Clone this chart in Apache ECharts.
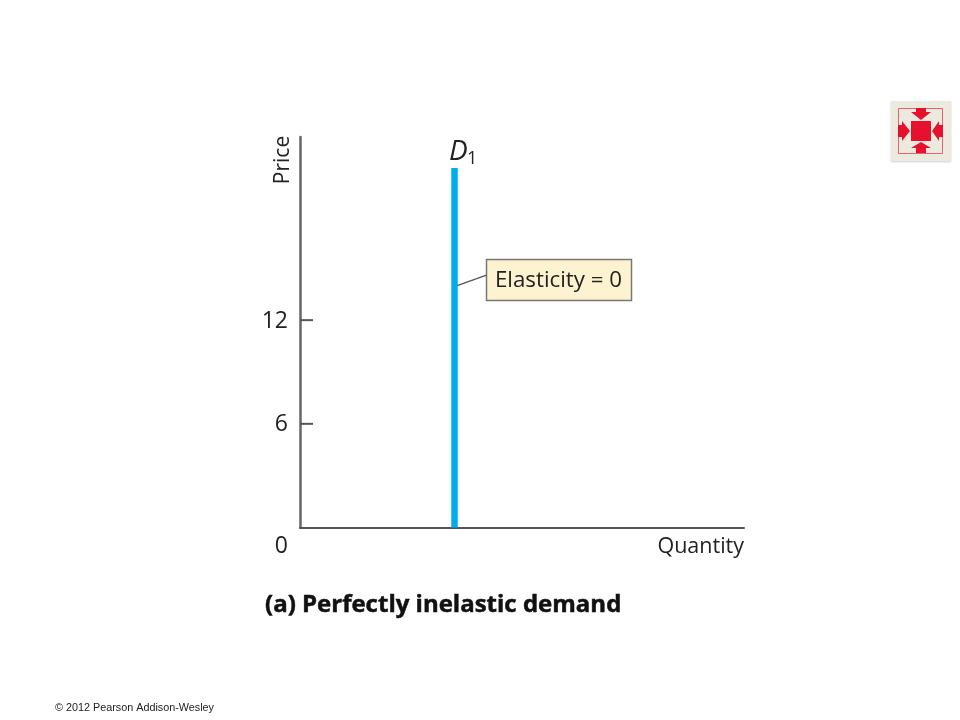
<!DOCTYPE html>
<html><head><meta charset="utf-8">
<style>html,body{margin:0;padding:0;background:#fff}#c{width:960px;height:720px}</style>
<script src="https://cdn.jsdelivr.net/npm/echarts@6/dist/echarts.min.js"></script>
</head><body><div id="c"></div>
<script>
const priceTicks = [6, 12];
const demandQuantity = 34.8;
const demandPrices = [0, 20.8];
const leaderPrices = [14.0, 14.6];
const leaderQuantities = [35.4, 42.0];
const labels = {demand:'D', sub:'1', box:'Elasticity = 0', x:'Quantity', y:'Price', zero:'0', title:'(a) Perfectly inelastic demand', copy:'© 2012 Pearson Addison-Wesley'};
const FONT = '"Open Sans","Noto Sans",sans-serif';
const chart = echarts.init(document.getElementById('c'), null, {renderer:'canvas'});
const axisColor = '#555';
const RED = '#E8112D';
chart.setOption({
  animation:false,
  backgroundColor:'#fff',
  grid:{left:300,top:137,width:444,height:390.5,containLabel:false},
  xAxis:{type:'value',min:0,max:100,splitLine:{show:false},axisTick:{show:false},axisLabel:{show:false},
    axisLine:{onZero:false,lineStyle:{color:axisColor,width:2}}},
  yAxis:{type:'value',min:0,max:22.6,splitLine:{show:false},axisTick:{show:false},axisLabel:{show:false},
    axisLine:{onZero:false,lineStyle:{color:'#666',width:2.5}}},
  series:[
    {type:'line',name:'Demand',symbol:'none',silent:true,
      data:demandPrices.map(p=>[demandQuantity,p]),
      lineStyle:{color:'#00AEEF',width:6.5,cap:'butt'}},
    {type:'line',name:'Leader',symbol:'none',silent:true,
      data:leaderQuantities.map((q,i)=>[q,leaderPrices[i]]),
      lineStyle:{color:'#555',width:1.3}},
    {type:'custom',name:'Ticks',silent:true,data:priceTicks.map(p=>[0,p]),
      renderItem:(params,api)=>{
        const a=api.coord([0,api.value(1)]);
        return {type:'group',children:[
          {type:'line',shape:{x1:a[0],y1:a[1],x2:a[0]+13,y2:a[1]},style:{stroke:axisColor,lineWidth:2}},
          {type:'text',x:a[0]-12,y:a[1]+1,style:{text:String(api.value(1)),font:'23px '+FONT,fill:'#222',align:'right',verticalAlign:'middle'}}
        ]};
      }}
  ],
  graphic:[
    {type:'text',x:288,y:546,style:{text:labels.zero,font:'23px '+FONT,fill:'#222',align:'right',verticalAlign:'middle'}},
    {type:'text',x:744,y:547,style:{text:labels.x,font:'21.5px '+FONT,fill:'#222',align:'right',verticalAlign:'middle'}},
    {type:'text',x:283,y:160,rotation:Math.PI/2,style:{text:labels.y,font:'21px '+FONT,fill:'#222',align:'center',verticalAlign:'middle'}},
    {type:'text',x:449,y:152,style:{text:labels.demand,font:'italic 28px '+FONT,fill:'#222',align:'left',verticalAlign:'middle'}},
    {type:'text',x:467,y:159,style:{text:labels.sub,font:'18px '+FONT,fill:'#222',align:'left',verticalAlign:'middle'}},
    {type:'rect',shape:{x:486.5,y:259.5,width:145,height:41},style:{fill:'#FDF3D0',stroke:'#777',lineWidth:1.5}},
    {type:'text',x:558.5,y:281,style:{text:labels.box,font:'22.3px '+FONT,fill:'#222',align:'center',verticalAlign:'middle'}},
    {type:'text',x:265,y:605,style:{text:labels.title,font:'bold 24px '+FONT,fill:'#111',stroke:'#111',lineWidth:0.5,align:'left',verticalAlign:'middle'}},
    {type:'text',x:55,y:708,style:{text:labels.copy,font:'10.8px "Liberation Sans",Arial,sans-serif',fill:'#222',align:'left',verticalAlign:'middle'}},
    {type:'rect',shape:{x:891,y:101,width:60,height:60},style:{fill:'#ECE9DE',shadowColor:'rgba(0,0,0,0.2)',shadowBlur:2,shadowOffsetY:1}},
    {type:'rect',shape:{x:898.5,y:108.5,width:44,height:45},style:{fill:'none',stroke:'#EE6070',lineWidth:1}},
    {type:'rect',shape:{x:911,y:121,width:20,height:20},style:{fill:RED}},
    {type:'polygon',shape:{points:[[916,108],[926,108],[926,112],[931,112],[921,120],[911,112],[916,112]]},style:{fill:RED}},
    {type:'polygon',shape:{points:[[916,153],[926,153],[926,148],[931,148],[921,142],[911,148],[916,148]]},style:{fill:RED}},
    {type:'polygon',shape:{points:[[898,125],[902,125],[902,121],[910,131],[902,141],[902,137],[898,137]]},style:{fill:RED}},
    {type:'polygon',shape:{points:[[943,125],[939,125],[939,121],[932,131],[939,141],[939,137],[943,137]]},style:{fill:RED}}
  ]
});
</script></body></html>
